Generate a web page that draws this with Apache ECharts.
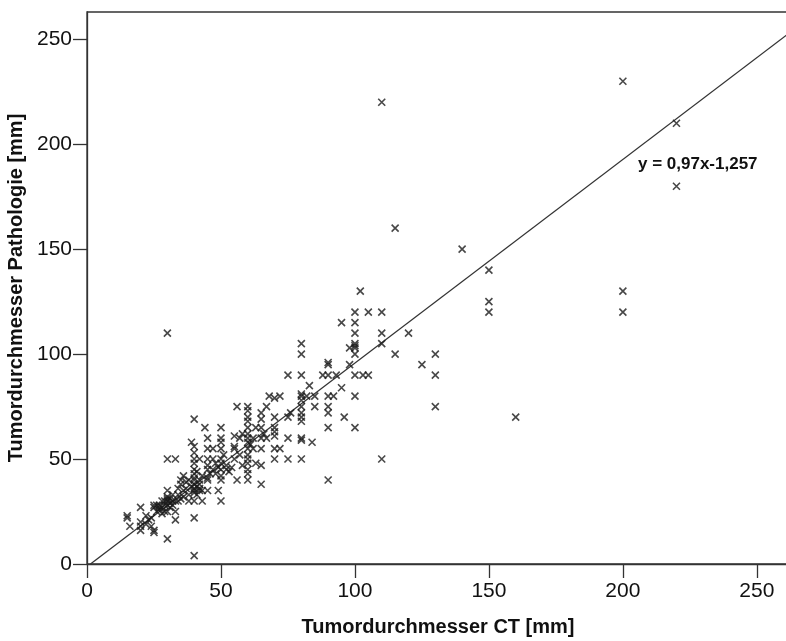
<!DOCTYPE html>
<html>
<head>
<meta charset="utf-8">
<script src="https://cdn.jsdelivr.net/npm/echarts@6/dist/echarts.min.js"></script>
<style>
  html, body { margin: 0; padding: 0; background: #fff; }
  #chart { width: 786px; height: 641px; }
</style>
</head>
<body>
<div id="chart"></div>
<script>
// CT diameter vs. pathology diameter [mm], one pair per tumour
const tumorPairs = [
  // small tumours
  [15, 23], [15, 22], [16, 18], [20, 27], [20, 20], [20, 18], [20, 16], [22, 23], [23, 21],
  [24, 18], [25, 16], [25, 15], [25, 27], [25, 28], [26, 25], [27, 26], [27, 28], [28, 24],
  [28, 27], [29, 25], [29, 30], [30, 25], [30, 28], [30, 30], [30, 31], [30, 32], [30, 35],
  [31, 27], [31, 29], [32, 30], [32, 33], [33, 25], [33, 21], [33, 30], [34, 30], [35, 31],
  [35, 38], [35, 40], [36, 42], [36, 35], [37, 36], [38, 30], [38, 40], [30, 50], [33, 50],
  [30, 12], [26, 28], [28, 30], [32, 28], [34, 33], [36, 32], [38, 33], [27, 27], [29, 28],
  [31, 31], [34, 36], [37, 39], [22, 19], [24, 22],
  // around 40
  [40, 69], [39, 58], [40, 56], [40, 53], [40, 50], [40, 48], [40, 45], [40, 43], [40, 41],
  [40, 40], [40, 38], [40, 36], [40, 35], [40, 34], [40, 30], [40, 22], [40, 4], [41, 37],
  [42, 35], [42, 40], [43, 35], [42, 50], [43, 30], [41, 33], [42, 38], [43, 42], [41, 44],
  [39, 37], [42, 36],
  // around 45-50
  [44, 65], [45, 60], [45, 55], [45, 50], [45, 47], [45, 45], [45, 41], [45, 40], [45, 35],
  [47, 45], [47, 50], [48, 43], [50, 65], [50, 60], [50, 58], [50, 55], [50, 50], [50, 48],
  [50, 45], [50, 42], [50, 40], [49, 35], [50, 30], [52, 45], [52, 47], [53, 44], [54, 46],
  [47, 55], [48, 48], [51, 52], [46, 43], [49, 46],
  // around 55-60
  [56, 75], [55, 61], [55, 56], [55, 55], [55, 50], [56, 40], [57, 60], [57, 52], [58, 47],
  [60, 75], [60, 73], [60, 70], [60, 68], [60, 65], [60, 62], [60, 60], [60, 58], [60, 55],
  [60, 52], [60, 50], [60, 48], [60, 45], [60, 43], [60, 40], [62, 55], [62, 60], [63, 65],
  [63, 48], [58, 62], [61, 57],
  // around 65-70
  [65, 72], [65, 69], [65, 65], [65, 60], [65, 55], [65, 47], [65, 38], [67, 75], [67, 60],
  [68, 80], [70, 79], [72, 80], [70, 70], [70, 65], [70, 63], [70, 61], [70, 55], [70, 50],
  [72, 55], [66, 62],
  // around 75-85
  [75, 90], [75, 70], [75, 60], [75, 50], [76, 72], [80, 105], [80, 100], [80, 90], [80, 81],
  [80, 80], [80, 78], [80, 75], [80, 72], [80, 70], [80, 68], [80, 60], [80, 59], [80, 50],
  [82, 80], [83, 85], [84, 58], [85, 80], [85, 75],
  // around 90-100
  [88, 90], [90, 90], [90, 95], [90, 96], [93, 90], [90, 80], [92, 80], [90, 75], [90, 72],
  [90, 65], [90, 40], [95, 84], [96, 70], [95, 115], [98, 103], [98, 95],
  [100, 120], [100, 115], [100, 110], [100, 105], [100, 104], [100, 103], [100, 100], [100, 90],
  [103, 90], [105, 90], [100, 80], [100, 65], [102, 130], [105, 120], [110, 120], [110, 110],
  [110, 105], [115, 100], [120, 110], [110, 50],
  // large / outliers
  [30, 110], [110, 220], [115, 160], [125, 95], [130, 100], [130, 90], [130, 75], [160, 70],
  [140, 150], [150, 140], [150, 125], [150, 120], [200, 230], [200, 130], [200, 120],
  [220, 210], [220, 180]
];

const xTicks = [0, 50, 100, 150, 200, 250];
const yTicks = [0, 50, 100, 150, 200, 250];
const xMax = 262;
const yMax = 263;

// fitted line y = 0.97x - 1.257
const slope = 0.97;
const intercept = -1.257;
const fitLabel = 'y = 0,97x-1,257';

const fitStart = -intercept / slope;
const fitLine = [
  [fitStart, 0],
  [xMax, slope * xMax + intercept]
];

const chart = echarts.init(document.getElementById('chart'));

const fontFamily = "'Liberation Sans', Arial, sans-serif";
const ink = '#111';

const option = {
  backgroundColor: '#fff',
  animation: false,
  grid: {
    left: 87,
    right: -3,
    top: 12,
    bottom: 77,
    outerBoundsMode: 'none',
    show: true,
    borderColor: '#333',
    borderWidth: 1.3
  },
  xAxis: {
    type: 'value',
    min: 0,
    max: xMax,
    name: 'Tumordurchmesser CT [mm]',
    nameLocation: 'middle',
    nameGap: 53,
    nameTextStyle: { color: ink, fontSize: 20, fontWeight: 'bold', fontFamily },
    axisLine: { show: true, onZero: false, lineStyle: { color: '#333', width: 1.3 } },
    axisTick: { show: true, length: 14, customValues: xTicks, lineStyle: { color: '#333', width: 1.3 } },
    axisLabel: { customValues: xTicks, color: ink, fontSize: 21, fontFamily, margin: 17 },
    splitLine: { show: false }
  },
  yAxis: {
    type: 'value',
    min: 0,
    max: yMax,
    name: 'Tumordurchmesser Pathologie [mm]',
    nameLocation: 'middle',
    nameGap: 55,
    nameTextStyle: { color: ink, fontSize: 20, fontWeight: 'bold', fontFamily },
    axisLine: { show: true, onZero: false, lineStyle: { color: '#333', width: 1.3 } },
    axisTick: { show: true, length: 14, customValues: yTicks, lineStyle: { color: '#333', width: 1.3 } },
    axisLabel: { customValues: yTicks, color: ink, fontSize: 21, fontFamily, margin: 15 },
    splitLine: { show: false }
  },
  graphic: [{
    type: 'text',
    left: 638,
    top: 156,
    style: {
      text: fitLabel,
      fill: ink,
      font: "bold 17px 'Liberation Sans', Arial, sans-serif"
    }
  }],
  series: [
    {
      type: 'scatter',
      data: tumorPairs,
      symbol: 'path://M0,0L10,10M10,0L0,10',
      symbolSize: 7,
      itemStyle: { color: 'rgba(0,0,0,0)', borderColor: '#1a1a1a', borderWidth: 1.6 },
      silent: true
    },
    {
      type: 'line',
      data: fitLine,
      showSymbol: false,
      lineStyle: { color: '#333', width: 1.3 },
      silent: true,
      z: 1
    }
  ]
};

chart.setOption(option);
</script>
</body>
</html>
